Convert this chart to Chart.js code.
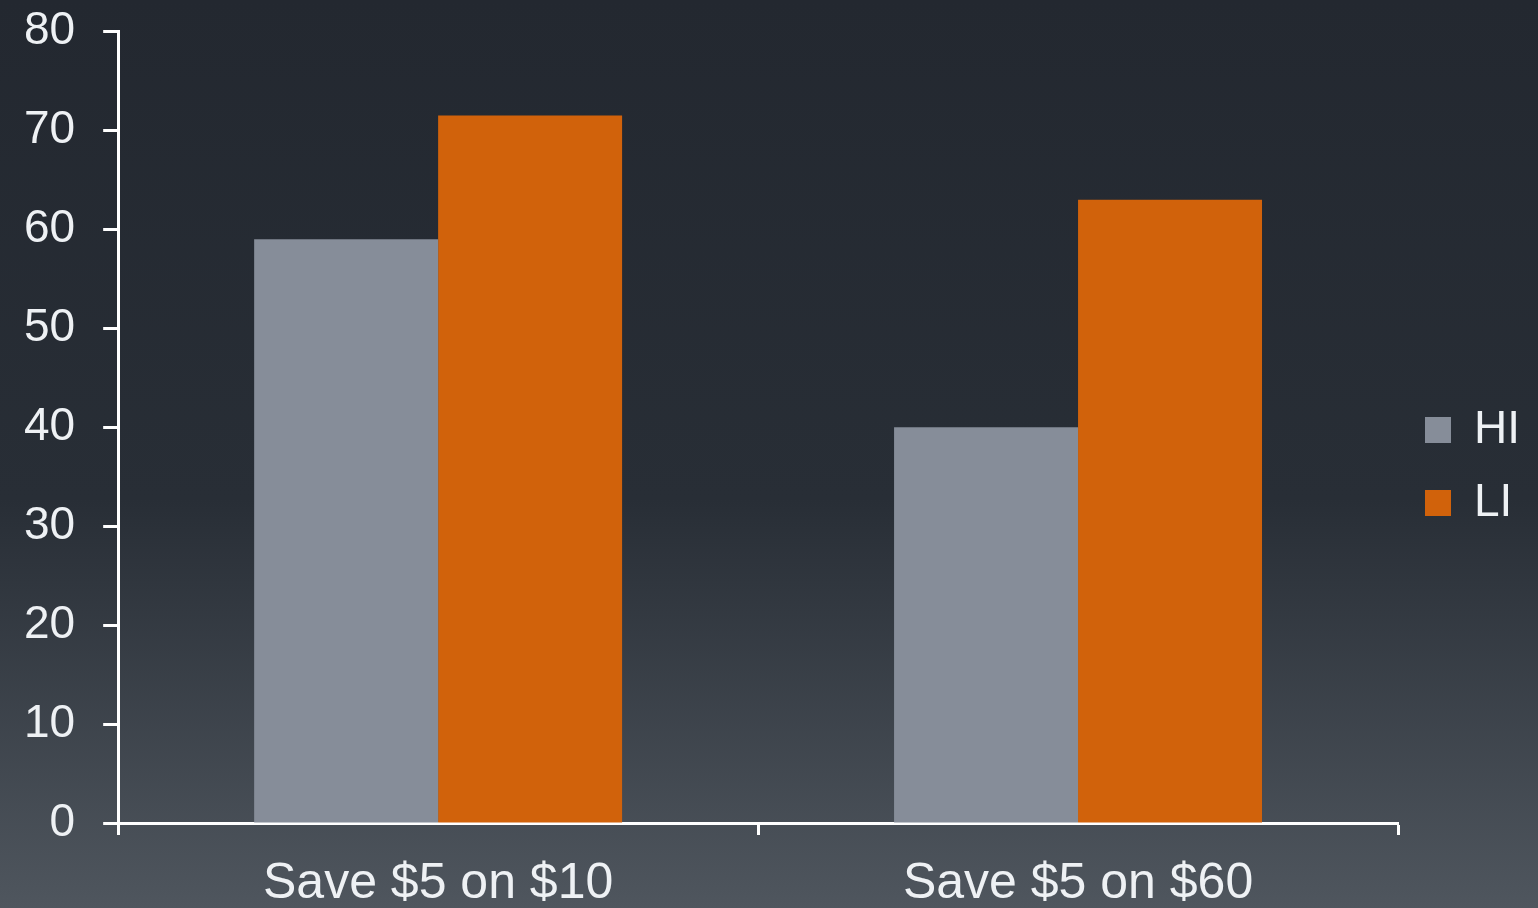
<!DOCTYPE html>
<html>
<head>
<meta charset="utf-8">
<script src="https://cdn.jsdelivr.net/npm/chart.js@4/dist/chart.umd.min.js"></script>
<style>
  html, body { margin: 0; padding: 0; }
  body {
    width: 1538px; height: 908px; overflow: hidden;
    background: linear-gradient(to bottom, #232830 0%, #282e36 55%, #4f565e 100%);
  }
  #wrap { width: 1538px; height: 908px; }
</style>
</head>
<body>
<div id="wrap"><canvas id="myChart"></canvas></div>
<script>
const canvas = document.getElementById('myChart')

// data
const categories = ['Save $5 on $10', 'Save $5 on $60']
const hiValues = [59, 40]
const liValues = [71.5, 63]
const yTicks = [0, 10, 20, 30, 40, 50, 60, 70, 80]

const textColor = '#eef1f4'
const fontFamily = "'Liberation Sans', Arial, sans-serif"

const config = {
    type: 'bar',
    data: {
        labels: categories,
        datasets: [{
            label: 'HI',
            data: hiValues,
            backgroundColor: '#868d99',
            borderWidth: 0
        }, {
            label: 'LI',
            data: liValues,
            backgroundColor: '#d1620b',
            borderWidth: 0
        }]
    },
    options: {
        responsive: true,
        maintainAspectRatio: false,
        animation: false,
        categoryPercentage: 0.575,
        barPercentage: 1,
        // negative padding pulls the plot out to the picture's edges
        layout: {
            padding: {top: 0, right: 8, bottom: -25, left: -4}
        },
        plugins: {
            tooltip: {enabled: false},
            legend: {
                position: 'right',
                labels: {
                    color: textColor,
                    font: {family: fontFamily, size: 46},
                    boxWidth: 26,
                    boxHeight: 26,
                    padding: 27
                }
            }
        },
        scales: {
            x: {
                grid: {
                    offset: true,
                    drawOnChartArea: false,
                    drawTicks: true,
                    tickLength: 12,
                    tickColor: '#ffffff',
                    tickWidth: 3
                },
                border: {display: true, color: '#ffffff', width: 3},
                ticks: {
                    color: textColor,
                    font: {family: fontFamily, size: 50},
                    padding: 19
                }
            },
            y: {
                min: 0,
                max: 80,
                afterBuildTicks: (axis) => {
                    axis.ticks = yTicks.map(v => ({value: v}))
                },
                grid: {
                    drawOnChartArea: false,
                    drawTicks: true,
                    tickLength: 15,
                    tickColor: '#ffffff',
                    tickWidth: 3
                },
                border: {display: true, color: '#ffffff', width: 3},
                ticks: {
                    color: textColor,
                    // small line height keeps the top label from pushing the plot down
                    font: {family: fontFamily, size: 46, lineHeight: 0.15},
                    padding: 28
                }
            }
        }
    }
}

const myChart = new Chart(canvas, config)
</script>
</body>
</html>
